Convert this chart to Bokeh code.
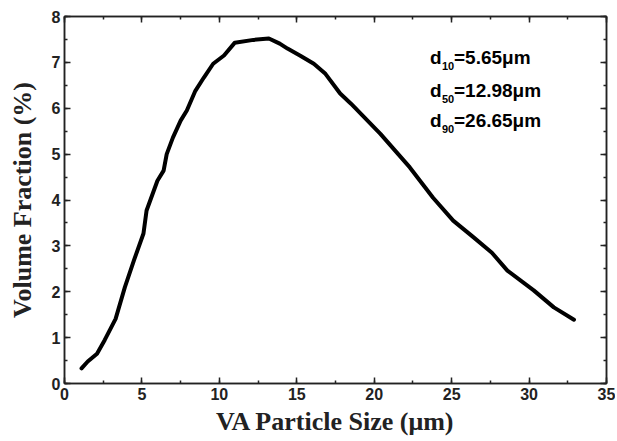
from bokeh.plotting import figure
from bokeh.models import Range1d, LinearAxis, SingleIntervalTicker, CustomLabelingPolicy
from bokeh.core.properties import value
from bokeh.embed import file_html
from bokeh.resources import INLINE

size_um = [1.1, 1.5, 2.1, 2.6, 3.3, 3.9, 4.5, 5.1, 5.3, 6.0, 6.4, 6.6, 7.0, 7.5, 7.9, 8.45,
           9.0, 9.6, 10.3, 11.0, 12.2, 13.2, 13.9, 14.4, 15.2, 16.1, 16.85, 17.8, 18.5,
           20.4, 22.3, 23.8, 25.1, 26.4, 27.6, 28.6, 30.3, 31.6, 32.9]
volume_pct = [0.33, 0.48, 0.65, 0.95, 1.41, 2.1, 2.7, 3.27, 3.77, 4.42, 4.64, 5.0, 5.36, 5.73,
              5.95, 6.38, 6.67, 6.97, 7.15, 7.43, 7.49, 7.52, 7.41, 7.3, 7.15, 6.97, 6.75,
              6.32, 6.1, 5.44, 4.71, 4.05, 3.55, 3.19, 2.85, 2.46, 2.03, 1.66, 1.39]

ann_main = ["d", "d", "d"]
ann_sub = ["10", "50", "90"]
ann_val = ["=5.65\u03bcm", "=12.98\u03bcm", "=26.65\u03bcm"]
ann_x = [23.6, 23.6, 23.6]
ann_y = [7.1, 6.38, 5.73]

p = figure(width=615, height=439, output_backend="svg", toolbar_location=None,
           x_range=Range1d(0, 35), y_range=Range1d(0, 8),
           min_border_left=64, min_border_right=9, min_border_top=16, min_border_bottom=56)
p.grid.visible = False
p.outline_line_color = "#222222"
p.outline_line_width = 1.5
p.background_fill_color = "white"
p.border_fill_color = "white"

p.line(size_um, volume_pct, line_width=4, color="black", line_join="round", line_cap="round")

p.text(x=ann_x, y=ann_y, text=ann_main, text_font=value("Liberation Sans"),
       text_font_style="bold", text_font_size="19px", text_baseline="middle", text_align="left")
p.text(x=ann_x, y=ann_y, text=ann_sub, text_font=value("Liberation Sans"),
       text_font_style="bold", text_font_size="11px", text_baseline="middle", text_align="left",
       x_offset=12, y_offset=8)
p.text(x=ann_x, y=ann_y, text=ann_val, text_font=value("Liberation Sans"),
       text_font_style="bold", text_font_size="19px", text_baseline="middle", text_align="left",
       x_offset=24)

p.xaxis.ticker = SingleIntervalTicker(interval=5, num_minor_ticks=2)
p.yaxis.ticker = SingleIntervalTicker(interval=1, num_minor_ticks=2)


def style_ticks(ax):
    ax.major_tick_in = 6
    ax.major_tick_out = 0
    ax.minor_tick_in = 3
    ax.minor_tick_out = 0
    ax.axis_line_width = 1.5
    ax.axis_line_color = "#222222"
    ax.major_tick_line_color = "#222222"
    ax.minor_tick_line_color = "#222222"
    ax.major_tick_line_width = 1.5
    ax.minor_tick_line_width = 1.5


for ax in (p.xaxis[0], p.yaxis[0]):
    style_ticks(ax)
    ax.major_label_text_font = "Liberation Sans"
    ax.major_label_text_font_style = "bold"
    ax.major_label_text_font_size = "16px"
    ax.major_label_text_color = "#222222"
    ax.axis_label_text_font = "Liberation Serif"
    ax.axis_label_text_font_style = "bold"
    ax.axis_label_text_font_size = "26px"
    ax.axis_label_text_color = "#222222"

p.xaxis.axis_label = "VA Particle Size (\u03bcm)"
p.yaxis.axis_label = "Volume Fraction (%)"
p.xaxis.major_label_standoff = 4
p.yaxis.major_label_standoff = 4
p.xaxis.axis_label_standoff = 4
p.yaxis.axis_label_standoff = 12

hide_labels = CustomLabelingPolicy(code="return new Set()")
for loc, tk in (("above", SingleIntervalTicker(interval=5, num_minor_ticks=2)),
                ("right", SingleIntervalTicker(interval=1, num_minor_ticks=2))):
    ax = LinearAxis(ticker=tk, major_label_policy=hide_labels, major_label_standoff=0)
    style_ticks(ax)
    p.add_layout(ax, loc)

open("out.html", "w").write(file_html(p, INLINE))
